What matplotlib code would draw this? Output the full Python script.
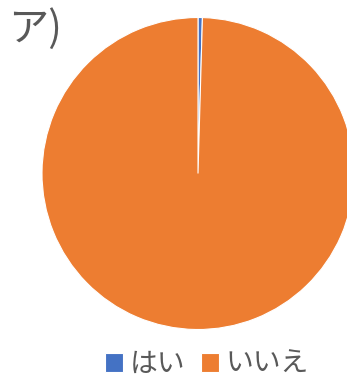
import matplotlib
matplotlib.use("Agg")
import matplotlib.pyplot as plt

plt.rcParams['font.family'] = ['Noto Sans CJK JP', 'DejaVu Sans']

labels = ["はい", "いいえ"]
values = [1, 220]
colors = ["#4472C4", "#ED7D31"]
title = "ア)"

W, H = 347, 379
fig = plt.figure(figsize=(W / 100, H / 100), dpi=100)

# pie axes: centre (198, 173.5) px, radius 156 px
cx, cy, r = 198, 173.5, 156
ax = fig.add_axes([(cx - r) / W, (H - cy - r) / H, 2 * r / W, 2 * r / H])
wedges, _ = ax.pie(values, colors=colors, startangle=90, counterclock=False,
                   radius=1.0,
                   wedgeprops=dict(edgecolor="white", linewidth=0.8))
ax.set_xlim(-1, 1)
ax.set_ylim(-1, 1)
ax.set_aspect("equal")
ax.axis("off")

fig.text(8 / W, 1 - 29 / H, title, fontsize=29, color="#595959",
         ha="left", va="center")

leg = fig.legend(wedges, labels, ncol=2, loc="center",
                 bbox_to_anchor=(207 / W, 1 - 364 / H), frameon=False,
                 fontsize=20, handlelength=0.65, handleheight=0.65,
                 handletextpad=0.25, columnspacing=0.55, borderpad=0)
for t in leg.get_texts():
    t.set_color("#595959")

fig.savefig("out.png", dpi=100)
